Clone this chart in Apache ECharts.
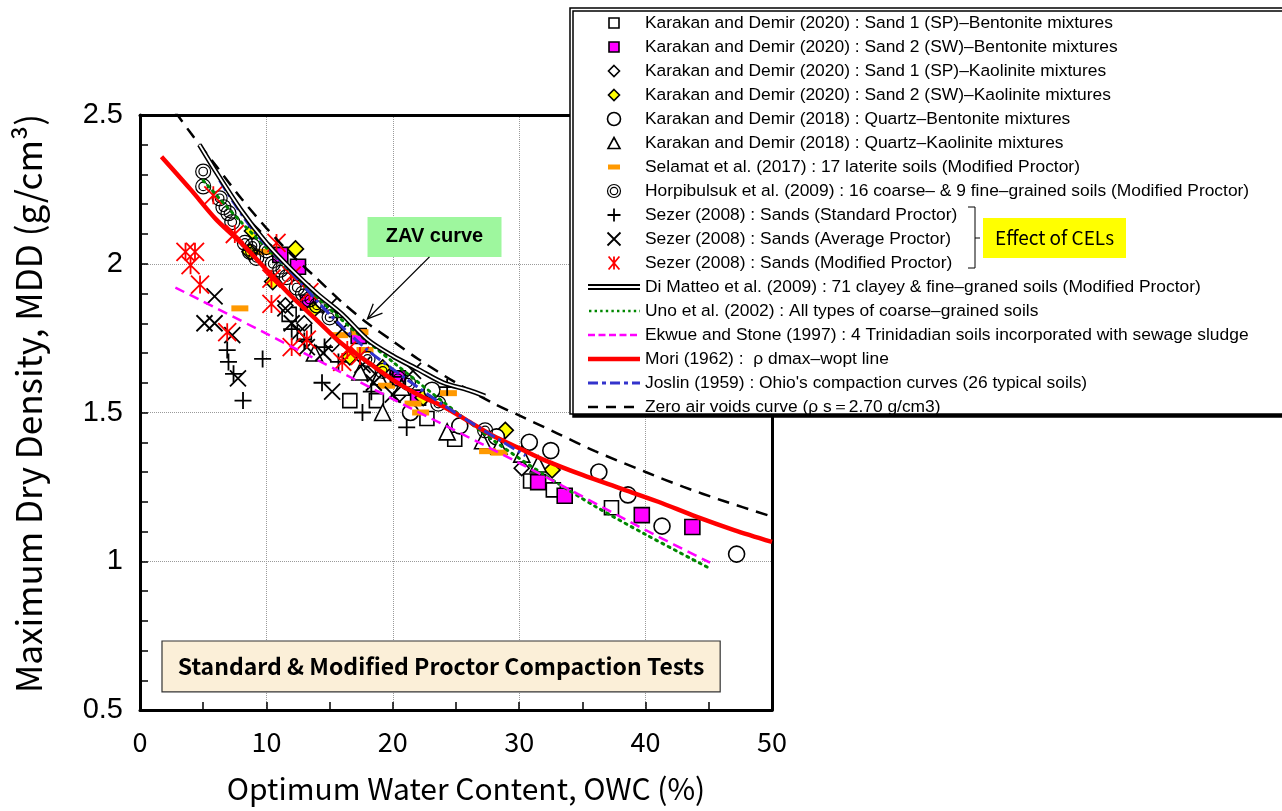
<!DOCTYPE html>
<html>
<head>
<meta charset="utf-8">
<title>MDD vs OWC</title>
<script src="https://cdn.jsdelivr.net/npm/echarts@6.0.0/dist/echarts.min.js"></script>
<style>
  html, body { margin: 0; padding: 0; background: #fff; }
  #chart { width: 1282px; height: 811px; }
</style>
</head>
<body>
<div id="chart"></div>
<script>
// ---- Measured points: [optimum water content (%), maximum dry density (g/cm3)] ----
const sand1Bentonite = [[11.8,1.83],[13.0,1.77],[16.6,1.54],[18.7,1.54],[22.7,1.48],[24.9,1.41],[30.9,1.27],[32.7,1.24],[37.3,1.18]];
const sand2Bentonite = [[11.1,2.03],[12.5,1.99],[13.3,1.87],[17.3,1.757],[20.4,1.615],[22.0,1.55],[31.5,1.266],[33.6,1.22],[39.7,1.155],[43.7,1.115]];
const sand1Kaolinite = [[11.5,1.86],[13.0,1.80],[15.2,1.73],[18.0,1.63],[20.5,1.56],[30.2,1.313]];
const sand2Kaolinite = [[8.7,2.04],[8.9,2.11],[10.5,1.94],[12.3,2.05],[13.7,1.845],[16.6,1.687],[19.2,1.65],[22.4,1.55],[28.9,1.44],[32.6,1.307]];
const quartzBentonite = [[21.4,1.50],[23.1,1.575],[25.3,1.455],[28.2,1.418],[30.8,1.40],[32.5,1.372],[36.3,1.30],[38.6,1.223],[41.3,1.118],[47.2,1.024]];
const quartzKaolinite = [[13.8,1.70],[17.4,1.636],[18.9,1.62],[19.2,1.50],[20.7,1.585],[24.3,1.435],[27.1,1.405],[28.4,1.387],[30.2,1.36],[31.5,1.327]];
const selamatLaterite = [[7.9,1.85],[9.9,2.04],[15.8,1.76],[17.4,1.77],[17.8,1.71],[19.5,1.59],[21.6,1.53],[22.2,1.50],[24.4,1.565],[27.5,1.37],[28.4,1.365]];
const horpibulsukSoils = [[5.0,2.31],[5.0,2.26],[6.3,2.22],[6.6,2.19],[7.0,2.17],[7.3,2.14],[8.3,2.07],[8.7,2.04],[8.9,2.06],[9.2,2.02],[10.0,2.045],[10.5,2.0],[11.1,1.98],[11.6,1.955],[12.4,1.92],[12.9,1.90],[13.4,1.88],[14.0,1.86],[15.0,1.82],[18.0,1.68],[19.2,1.64],[20.4,1.615],[21.2,1.60],[23.6,1.53],[27.3,1.44]];
const sezerStandard = [[6.9,1.71],[7.0,1.67],[7.4,1.63],[8.15,1.54],[9.7,1.68],[12.0,1.78],[13.0,1.74],[14.4,1.60],[14.6,1.72],[15.6,1.82],[15.7,1.67],[17.6,1.50],[18.3,1.57],[20.0,1.62],[21.1,1.45],[24.3,1.585]];
const sezerAverage = [[5.1,1.80],[5.9,1.80],[5.9,1.89],[7.3,1.76],[7.75,1.615],[11.5,1.85],[12.0,1.80],[12.6,1.77],[13.2,1.72],[14.5,1.70],[15.0,1.86],[15.2,1.57],[16.0,1.78],[17.6,1.66],[18.5,1.60],[20.0,1.56],[21.6,1.64]];
const sezerModified = [[3.6,2.04],[4.35,2.04],[4.0,1.995],[4.75,1.93],[5.8,2.23],[6.9,1.77],[7.5,2.10],[10.4,1.95],[10.4,1.865],[10.8,2.07],[12.0,1.96],[12.0,1.72],[13.2,1.745],[13.4,1.905],[16.0,1.67],[16.4,1.71],[17.4,1.69]];

// ---- Reference lines ----
const diMatteoLine = [[4.7,2.40],[6,2.31],[8,2.18],[10,2.07],[12,1.98],[14,1.90],[16,1.83],[18,1.745],[20,1.69],[22,1.645],[24,1.60],[26,1.575],[27.3,1.555]];
const unoLine = [[5.0,2.28],[8,2.14],[12,1.97],[16,1.81],[20,1.67],[24,1.535],[28,1.405],[32,1.29],[36,1.185],[40,1.09],[44.9,0.98]];
const ekwueLine = [[2.8,1.92],[10,1.765],[20,1.545],[30,1.33],[40,1.105],[45.1,0.995]];
const moriLine = [[1.7,2.36],[4,2.25],[6,2.15],[8,2.07],[10,1.98],[12,1.89],[14,1.81],[16,1.73],[18,1.67],[20,1.61],[22,1.56],[24,1.52],[26,1.47],[28,1.42],[30,1.38],[32,1.34],[35,1.29],[38,1.245],[41,1.20],[44,1.15],[47,1.105],[50,1.065]];
const joslinLine = [[6.3,2.28],[7.5,2.20],[9,2.11],[12,1.97],[15,1.83],[18,1.71],[21,1.615],[24,1.525],[27,1.445],[30.5,1.355]];
const zavLine = [[2.8,2.51],[4,2.44],[6,2.33],[8,2.22],[10,2.12],[12,2.03],[14,1.95],[16,1.87],[18,1.80],[20,1.74],[22,1.68],[25,1.60],[28,1.53],[30,1.49],[33,1.43],[36,1.37],[40,1.30],[43,1.25],[46,1.205],[50,1.15]];

// ---- Axis ranges / tick steps ----
const owcRange = [0, 50], owcStep = 10;
const mddRange = [0.5, 2.5], mddStep = 0.5;

// ---- Legend labels ----
const names = [
  'Karakan and Demir (2020) : Sand 1 (SP)–Bentonite mixtures',
  'Karakan and Demir (2020) : Sand 2 (SW)–Bentonite mixtures',
  'Karakan and Demir (2020) : Sand 1 (SP)–Kaolinite mixtures',
  'Karakan and Demir (2020) : Sand 2 (SW)–Kaolinite mixtures',
  'Karakan and Demir (2018) : Quartz–Bentonite mixtures',
  'Karakan and Demir (2018) : Quartz–Kaolinite mixtures',
  'Selamat et al. (2017) : 17 laterite soils (Modified Proctor)',
  'Horpibulsuk et al. (2009) : 16 coarse– & 9 fine–grained soils (Modified Proctor)',
  'Sezer (2008) : Sands (Standard Proctor)',
  'Sezer (2008) : Sands (Average Proctor)',
  'Sezer (2008) : Sands (Modified Proctor)',
  'Di Matteo et al. (2009) : 71 clayey & fine–graned soils (Modified Proctor)',
  'Uno et al. (2002) : All types of coarse–grained soils',
  'Ekwue and Stone (1997) : 4 Trinidadian soils incorporated with sewage sludge',
  'Mori (1962) :  ρ dmax–wopt line',
  'Joslin (1959) : Ohio\'s compaction curves (26 typical soils)',
  'Zero air voids curve (ρ s＝2.70 g/cm3)'
];

// ---- Marker outlines ----
const squarePath = 'path://M0,0L10,0L10,10L0,10Z';
const diamondPath = 'path://M5,0L10,5L5,10L0,5Z';
const trianglePath = 'path://M6,0L12,10.4L0,10.4Z';
const plusPath = 'path://M0,6L12,6M6,0L6,12';
const crossPath = 'path://M0,0L12,12M12,0L0,12';
const starPath = 'path://M1,0L11,12M11,0L1,12M6,0L6,12';
const ringPath = 'path://M0,7A7,7 0 1 1 14,7A7,7 0 1 1 0,7Z M3,7A4,4 0 1 1 11,7A4,4 0 1 1 3,7Z';

// ---- Legend icons (leading moves fix the icon box) ----
const BOX = 'M0,0M52,13';
function iconFromRects(rects) {
  return 'path://' + BOX + rects.map(function (r) {
    return 'M' + r[0] + ',' + r[1] + 'L' + (r[0] + r[2]) + ',' + r[1] + 'L' + (r[0] + r[2]) + ',' + (r[1] + r[3]) + 'L' + r[0] + ',' + (r[1] + r[3]) + 'Z';
  }).join('');
}
function dashRow(dash, gap, h, x0, x1) {
  const out = [];
  for (let x = x0; x < x1; x += dash + gap) out.push([x, 6.5 - h / 2, Math.min(dash, x1 - x), h]);
  return out;
}
function dashDotRow(h, x0, x1) {
  const pat = [10, 4, 4, 4], out = [];
  let x = x0, k = 0;
  while (x < x1) {
    if (k % 2 === 0) out.push([x, 6.5 - h / 2, Math.min(pat[k % 4], x1 - x), h]);
    x += pat[k % 4]; k++;
  }
  return out;
}
const legendIcons = {
  0: 'path://M0,0M13,13M1.5,1.5L11.5,1.5L11.5,11.5L1.5,11.5Z',
  1: 'path://M0,0M13,13M1.5,1.5L11.5,1.5L11.5,11.5L1.5,11.5Z',
  2: 'path://M0,0M13,13M6.5,1L12,6.5L6.5,12L1,6.5Z',
  3: 'path://M0,0M13,13M6.5,1L12,6.5L6.5,12L1,6.5Z',
  5: 'path://M0,0M13,13M6.5,1L12.5,12L0.5,12Z',
  6: 'path://M-18,-4M30,9M0,0L12,0L12,5L0,5Z',
  11: iconFromRects([[0, 3.6, 52, 1.8], [0, 7.6, 52, 1.8]]),
  12: iconFromRects(dashRow(2.4, 3.2, 2.4, 1, 52)),
  13: iconFromRects(dashRow(7, 3.5, 2.6, 0, 52)),
  14: iconFromRects([[0, 4.2, 52, 4.6]]),
  15: iconFromRects(dashDotRow(3, 0, 52)),
  16: iconFromRects(dashRow(10, 8, 2.6, 0, 52))
};

function pts(name, data, symbol, size, style) {
  return {
    type: 'scatter', name: name, data: data, symbol: symbol, symbolSize: size,
    itemStyle: Object.assign({ opacity: 1 }, style), z: 3,
    emphasis: { disabled: true }, silent: true
  };
}
function curve(name, data, style, z) {
  return {
    type: 'line', name: name, data: data, showSymbol: false, symbol: 'none',
    smooth: 0.3, lineStyle: style, itemStyle: { color: style.color }, z: z || 4, clip: true,
    emphasis: { disabled: true }, silent: true
  };
}

const series = [
  pts(names[0], sand1Bentonite, squarePath, 14, { color: '#fff', borderColor: '#000', borderWidth: 1.6 }),
  pts(names[1], sand2Bentonite, squarePath, 15, { color: '#ff00ff', borderColor: '#000', borderWidth: 1.6 }),
  pts(names[2], sand1Kaolinite, diamondPath, 15, { color: '#fff', borderColor: '#000', borderWidth: 1.6 }),
  pts(names[3], sand2Kaolinite, diamondPath, 16, { color: '#ffff00', borderColor: '#000', borderWidth: 1.6 }),
  pts(names[4], quartzBentonite, 'circle', 16, { color: '#fff', borderColor: '#000', borderWidth: 1.6 }),
  pts(names[5], quartzKaolinite, trianglePath, 16, { color: '#fff', borderColor: '#000', borderWidth: 1.6 }),
  pts(names[6], selamatLaterite, 'rect', [17, 6], { color: '#ff9900' }),
  pts(names[7], horpibulsukSoils, ringPath, 15, { color: 'rgba(255,255,255,0)', borderColor: '#000', borderWidth: 1.2 }),
  pts(names[8], sezerStandard, plusPath, 17, { color: 'rgba(0,0,0,0)', borderColor: '#000', borderWidth: 1.8 }),
  pts(names[9], sezerAverage, crossPath, 16, { color: 'rgba(0,0,0,0)', borderColor: '#000', borderWidth: 1.8 }),
  pts(names[10], sezerModified, starPath, 18, { color: 'rgba(0,0,0,0)', borderColor: '#ff0000', borderWidth: 1.8 }),
  curve(names[11], diMatteoLine, { color: '#000', width: 5, type: 'solid' }, 5),
  curve('diMatteoGap', diMatteoLine, { color: '#fff', width: 1.8, type: 'solid' }, 6),
  curve(names[12], unoLine, { color: '#008800', width: 3, type: [2, 5], cap: 'round' }),
  curve(names[13], ekwueLine, { color: '#ff00ff', width: 2.5, type: [10, 6] }),
  curve(names[14], moriLine, { color: '#ff0000', width: 4.5, type: 'solid' }),
  curve(names[15], joslinLine, { color: '#3333cc', width: 3, type: [12, 4, 3, 4] }),
  curve(names[16], zavLine, { color: '#000', width: 2.5, type: [12, 8] })
];

const legendData = names.map(function (n, i) {
  return legendIcons[i] ? { name: n, icon: legendIcons[i] } : { name: n };
});

const jpFont = 'Noto Sans CJK JP';
const option = {
  animation: false,
  backgroundColor: '#fff',
  grid: { left: 140, right: 510, top: 115, bottom: 101, containLabel: false, outerBoundsMode: 'none' },
  xAxis: [{
    type: 'value', min: owcRange[0], max: owcRange[1], interval: owcStep, position: 'bottom',
    axisLine: { show: true, onZero: false, lineStyle: { color: '#000', width: 3 } },
    axisTick: { show: true, inside: true, length: 8, lineStyle: { color: '#000', width: 1.5 } },
    minorTick: { show: true, splitNumber: 2, length: 8, lineStyle: { color: '#000', width: 1.5 } },
    axisLabel: { fontFamily: jpFont, fontSize: 27, color: '#000', margin: 18 },
    splitLine: { show: true, lineStyle: { color: '#9a9a9a', type: 'dotted', width: 1 } },
    name: 'Optimum Water Content, OWC (%)', nameLocation: 'middle', nameGap: 64,
    nameTextStyle: { fontFamily: jpFont, fontSize: 30, color: '#000', padding: [0, 0, 0, 20] }
  }, {
    type: 'value', min: owcRange[0], max: owcRange[1], position: 'top',
    axisLine: { show: true, onZero: false, lineStyle: { color: '#000', width: 3 } },
    axisTick: { show: false }, axisLabel: { show: false }, splitLine: { show: false }
  }],
  yAxis: [{
    type: 'value', min: mddRange[0], max: mddRange[1], interval: mddStep, position: 'left',
    axisLine: { show: true, onZero: false, lineStyle: { color: '#000', width: 3 } },
    axisTick: { show: true, inside: true, length: 8, lineStyle: { color: '#000', width: 1.5 } },
    minorTick: { show: true, splitNumber: 5, length: 8, lineStyle: { color: '#000', width: 1.5 } },
    axisLabel: { fontFamily: 'Liberation Sans', fontSize: 29, color: '#000', margin: 17 },
    splitLine: { show: true, lineStyle: { color: '#9a9a9a', type: 'dotted', width: 1 } },
    name: 'Maximum Dry Density, MDD (g/cm³)', nameLocation: 'middle', nameGap: 94, nameRotate: 90,
    nameTextStyle: { fontFamily: jpFont, fontSize: 35, color: '#000', padding: [0, 0, 0, 18] }
  }, {
    type: 'value', min: mddRange[0], max: mddRange[1], position: 'right',
    axisLine: { show: true, onZero: false, lineStyle: { color: '#000', width: 3 } },
    axisTick: { show: false }, axisLabel: { show: false }, splitLine: { show: false }
  }],
  legend: {
    show: true, orient: 'vertical', left: 588, top: 11, z: 20,
    padding: 0, itemGap: 0, itemWidth: 52, itemHeight: 13,
    selectedMode: false, data: legendData,
    textStyle: { fontFamily: 'Liberation Sans', fontSize: 17.4, color: '#000', lineHeight: 24 },
    itemStyle: { borderWidth: 'inherit' }
  },
  series: series
};

const chart = echarts.init(document.getElementById('chart'), null, { renderer: 'canvas', width: 1282, height: 811 });
chart.setOption(option);

// ---- Annotations placed in data units ----
function px(p) { return chart.convertToPixel({ gridIndex: 0 }, p); }
const zavBoxA = px([18.0, 2.157]), zavBoxB = px([28.6, 2.023]);
const arrowFrom = px([22.9, 2.023]), arrowTo = px([18.0, 1.815]);
const testBoxA = px([1.74, 0.732]), testBoxB = px([45.9, 0.561]);

const dx = arrowTo[0] - arrowFrom[0], dy = arrowTo[1] - arrowFrom[1];
const len = Math.sqrt(dx * dx + dy * dy), ux = dx / len, uy = dy / len;
const head = 16, spread = 0.42;
function rot(vx, vy, a) { return [vx * Math.cos(a) - vy * Math.sin(a), vx * Math.sin(a) + vy * Math.cos(a)]; }
const w1 = rot(-ux, -uy, spread), w2 = rot(-ux, -uy, -spread);

chart.setOption({
  graphic: [
    // legend frame with drop shadow
    { type: 'rect', z: 15, shape: { x: 570, y: 8, width: 760, height: 406 },
      style: { fill: '#fff', stroke: '#000', lineWidth: 1.5, shadowColor: '#000', shadowOffsetX: 3, shadowOffsetY: 3, shadowBlur: 0 } },
    // bracket grouping the Sezer entries
    { type: 'polyline', z: 21, shape: { points: [[968, 207], [975, 207], [975, 268], [968, 268]] },
      style: { stroke: '#000', lineWidth: 1, fill: null } },
    { type: 'line', z: 21, shape: { x1: 975, y1: 238, x2: 980, y2: 238 }, style: { stroke: '#000', lineWidth: 1 } },
    { type: 'rect', z: 21, shape: { x: 983, y: 218, width: 143, height: 40 }, style: { fill: '#ffff00' } },
    { type: 'text', z: 22, style: { text: 'Effect of CELs', x: 1054.5, y: 238, align: 'center', verticalAlign: 'middle',
      fontFamily: jpFont, fontSize: 19, fill: '#000' } },
    // ZAV label and arrow
    { type: 'rect', z: 8, shape: { x: zavBoxA[0], y: zavBoxA[1], width: zavBoxB[0] - zavBoxA[0], height: zavBoxB[1] - zavBoxA[1] },
      style: { fill: '#9ef79e' } },
    { type: 'text', z: 9, style: { text: 'ZAV curve', x: (zavBoxA[0] + zavBoxB[0]) / 2, y: (zavBoxA[1] + zavBoxB[1]) / 2,
      align: 'center', verticalAlign: 'middle', fontFamily: 'Liberation Sans', fontWeight: 'bold', fontSize: 20, fill: '#000' } },
    { type: 'line', z: 9, shape: { x1: arrowFrom[0], y1: arrowFrom[1], x2: arrowTo[0], y2: arrowTo[1] },
      style: { stroke: '#000', lineWidth: 1.3 } },
    { type: 'polyline', z: 9, shape: { points: [
        [arrowTo[0] + head * w1[0], arrowTo[1] + head * w1[1]], arrowTo,
        [arrowTo[0] + head * w2[0], arrowTo[1] + head * w2[1]] ] },
      style: { stroke: '#000', lineWidth: 1.3, fill: null } },
    // test-type caption box
    { type: 'rect', z: 8, shape: { x: testBoxA[0], y: testBoxA[1], width: testBoxB[0] - testBoxA[0], height: testBoxB[1] - testBoxA[1] },
      style: { fill: '#fbefd8', stroke: '#333', lineWidth: 1.2 } },
    { type: 'text', z: 9, style: { text: 'Standard & Modified Proctor Compaction Tests', x: (testBoxA[0] + testBoxB[0]) / 2,
      y: (testBoxA[1] + testBoxB[1]) / 2, align: 'center', verticalAlign: 'middle',
      fontFamily: jpFont, fontWeight: 'bold', fontSize: 23, fill: '#000' } }
  ]
});
</script>
</body>
</html>
